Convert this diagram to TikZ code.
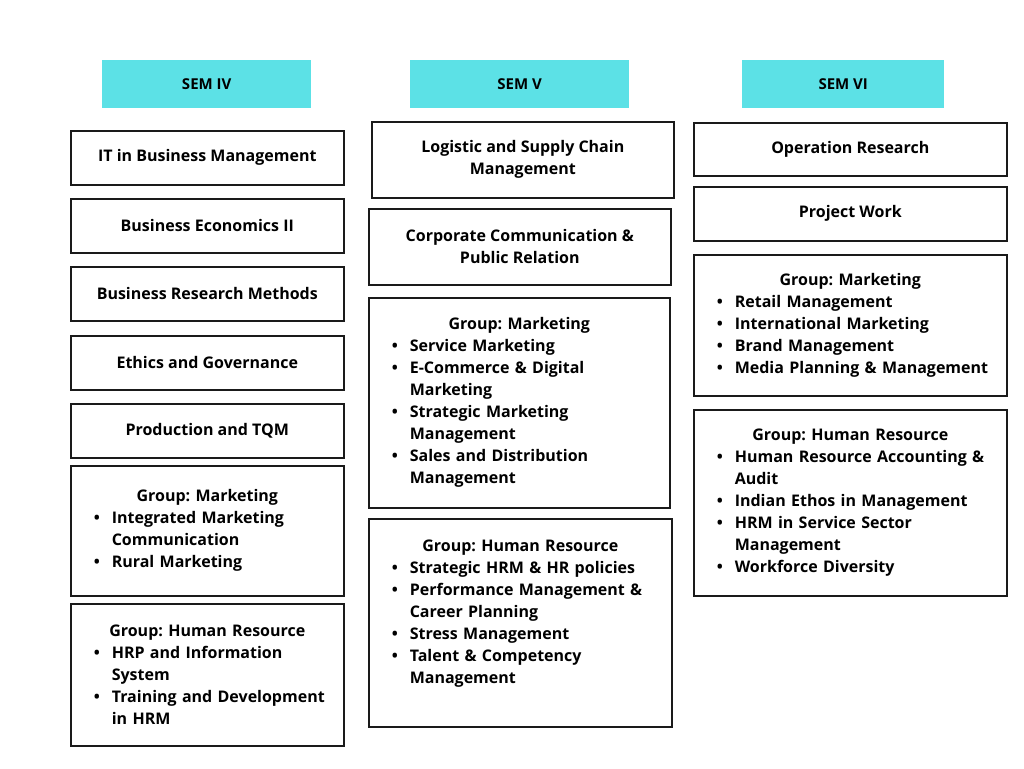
\documentclass[tikz,border=0pt]{standalone}
\usepackage{fontspec}
\setmainfont{Open Sans}
\usepackage{enumitem}
\setlist[itemize]{nosep,leftmargin=41pt,labelsep=12pt,label=\textbullet}
\newcommand\grouptitle[1]{{\centering #1\par}}
\frenchspacing

\begin{document}
\begin{tikzpicture}[x=1pt,y=-1pt,
	subject/.style={draw=boxline,line width=1.6pt,anchor=north west,inner sep=0pt,
		align=center,font=\fontsize{16}{22}\selectfont\bfseries},
	group/.style={subject,align=left},
	semhead/.style={fill=semfill,anchor=north west,inner sep=0pt,
		minimum height=48pt,font=\fontsize{15}{18}\selectfont\bfseries}]
	\definecolor{semfill}{HTML}{5CE1E6}
	\definecolor{boxline}{HTML}{1A1A1A}
	\useasboundingbox[fill=white] (0,0) rectangle (1024,768);
	% semester headers
	\node[semhead,minimum width=209pt] (sem4) at (102,60) {SEM IV};
	\node[semhead,minimum width=219pt] (sem5) at (410,60) {SEM V};
	\node[semhead,minimum width=202pt] (sem6) at (742,60) {SEM VI};
	% SEM IV
	\node[subject,minimum width=273pt,minimum height=54pt] (itbm) at (70,130) {IT in Business Management};
	\node[subject,minimum width=273pt,minimum height=54pt] (econ) at (70,198) {Business Economics II};
	\node[subject,minimum width=273pt,minimum height=54pt] (brm) at (70,266) {Business Research Methods};
	\node[subject,minimum width=273pt,minimum height=54pt] (ethics) at (70,335) {Ethics and Governance};
	\node[subject,minimum width=273pt,minimum height=54pt] (tqm) at (70,403) {Production and TQM};
	\node[group,text width=273pt,minimum height=130pt] (mkt4) at (70,465) {%
		\grouptitle{Group: Marketing}
		\begin{itemize}
		\item Integrated Marketing\\Communication
		\item Rural Marketing
		\end{itemize}};
	\node[group,text width=273pt,minimum height=142pt] (hr4) at (70,603) {%
		\grouptitle{Group: Human Resource}
		\begin{itemize}
		\item HRP and Information\\System
		\item Training and Development\\in HRM
		\end{itemize}};
	% SEM V
	\node[subject,minimum width=302pt,minimum height=76pt] (logistic) at (371,121) {Logistic and Supply Chain\\Management};
	\node[subject,minimum width=302pt,minimum height=76pt] (corpcomm) at (368,208) {Corporate Communication \&\\Public Relation};
	\node[group,text width=301pt,minimum height=210pt] (mkt5) at (368,297) {%
		\grouptitle{Group: Marketing}
		\begin{itemize}
		\item Service Marketing
		\item E-Commerce \& Digital\\Marketing
		\item Strategic Marketing\\Management
		\item Sales and Distribution\\Management
		\end{itemize}};
	\node[group,text width=303pt,minimum height=208pt] (hr5) at (368,518) {%
		\grouptitle{Group: Human Resource}
		\begin{itemize}
		\item Strategic HRM \& HR policies
		\item Performance Management \&\\Career Planning
		\item Stress Management
		\item Talent \& Competency\\Management
		\end{itemize}
		\mbox{}};
	% SEM VI
	\node[subject,minimum width=313pt,minimum height=53pt] (opres) at (693,122) {Operation Research};
	\node[subject,minimum width=313pt,minimum height=54pt] (project) at (693,186) {Project Work};
	\node[group,text width=313pt,minimum height=141pt] (mkt6) at (693,254) {%
		\grouptitle{Group: Marketing}
		\begin{itemize}
		\item Retail Management
		\item International Marketing
		\item Brand Management
		\item Media Planning \& Management
		\end{itemize}};
	\node[group,text width=313pt,minimum height=186pt] (hr6) at (693,409) {%
		\grouptitle{Group: Human Resource}
		\begin{itemize}
		\item Human Resource Accounting \&\\Audit
		\item Indian Ethos in Management
		\item HRM in Service Sector\\Management
		\item Workforce Diversity
		\end{itemize}};
\end{tikzpicture}
\end{document}
